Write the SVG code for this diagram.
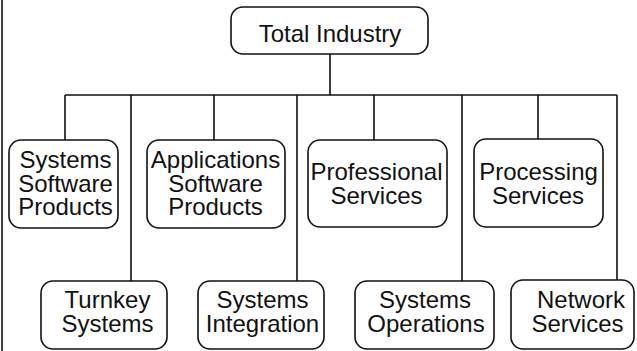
<svg xmlns="http://www.w3.org/2000/svg" width="637" height="351" viewBox="0 0 637 351">
<style>
.box{fill:#fff;stroke:#111;stroke-width:1.6}
.ln{fill:none;stroke:#111;stroke-width:1.6}
text{font-family:"Liberation Sans",Arial,Helvetica,sans-serif;font-size:24px;fill:#111;text-anchor:middle}
</style>
<rect width="637" height="351" fill="#fff"/>
<line class="ln" x1="2" y1="0" x2="2" y2="351"/>
<g id="connectors">
<path class="ln" d="M330 54V95M65 95H617M65 95V140M131 95V281M214 95V140M297 95V281M374 95V140M462 95V281M538 95V139M617 95V280"/>
</g>
<g id="total-industry">
<rect class="box" x="231" y="7" width="197" height="47" rx="12"/>
<text x="330" y="42">Total Industry</text>
</g>
<g id="systems-software-products">
<rect class="box" x="9" y="140" width="109" height="88" rx="12"/>
<text x="65.5" y="168">Systems</text>
<text x="65.5" y="191.5">Software</text>
<text x="65.5" y="215">Products</text>
</g>
<g id="applications-software-products">
<rect class="box" x="147" y="140" width="138" height="88" rx="12"/>
<text x="215.5" y="168">Applications</text>
<text x="215.5" y="191.5">Software</text>
<text x="215.5" y="215">Products</text>
</g>
<g id="professional-services">
<rect class="box" x="308" y="140" width="139" height="87" rx="12"/>
<text x="376.5" y="180">Professional</text>
<text x="376.5" y="203.5">Services</text>
</g>
<g id="processing-services">
<rect class="box" x="474" y="139" width="129" height="88" rx="12"/>
<text x="538.5" y="180">Processing</text>
<text x="538" y="203.5">Services</text>
</g>
<g id="turnkey-systems">
<rect class="box" x="41" y="281" width="126" height="68" rx="12"/>
<text x="107.5" y="308">Turnkey</text>
<text x="107.5" y="331.5">Systems</text>
</g>
<g id="systems-integration">
<rect class="box" x="198" y="281" width="126" height="68" rx="12"/>
<text x="262.5" y="308">Systems</text>
<text x="262.5" y="331.5">Integration</text>
</g>
<g id="systems-operations">
<rect class="box" x="355" y="281" width="139" height="68" rx="12"/>
<text x="425" y="308">Systems</text>
<text x="426" y="331.5">Operations</text>
</g>
<g id="network-services">
<rect class="box" x="511" y="280" width="123" height="69" rx="12"/>
<text x="581" y="308">Network</text>
<text x="577.5" y="331.5">Services</text>
</g>
</svg>
